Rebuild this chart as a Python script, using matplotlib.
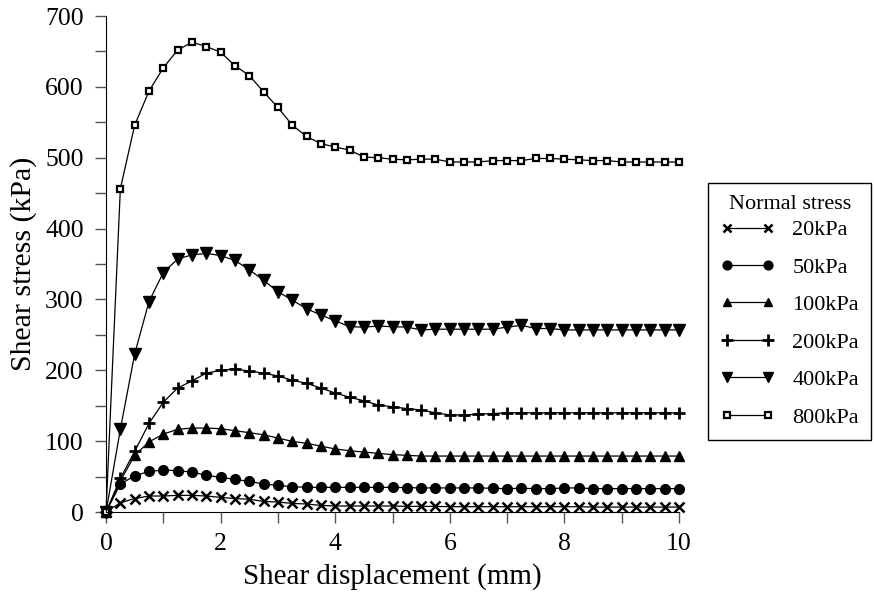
import numpy as np
import matplotlib.pyplot as plt
from matplotlib.ticker import MultipleLocator

plt.rcParams['font.family'] = ['Liberation Serif', 'DejaVu Serif']

# shear displacement (mm), 0.25 mm steps
disp = np.arange(0, 10.01, 0.25)

# shear stress (kPa)
s20 = [0, 13, 19, 22.6, 22.6, 23.5, 23.5, 22.6, 20.7, 19, 18, 15, 14, 12.2, 11.3, 9.4,
       8.5, 8.5, 8.5, 8.5, 8.5, 8, 8, 8, 7.5, 7.5, 7.5, 7.5, 7.5, 7.5, 7.5, 7.5, 7.5,
       7.5, 7, 7, 7, 7, 7, 7, 7]
s50 = [0, 39.5, 51, 57.4, 59.3, 58.3, 56.4, 51.8, 49, 46, 43.3, 39.5, 37.6, 35.8, 34.8,
       34.8, 34.8, 34.8, 34.8, 34.8, 34.8, 34.5, 34, 34, 34, 34, 34, 33.5, 33, 33.5, 33,
       33, 34, 34, 33, 33, 33, 33, 33, 33, 33]
s100 = [0, 44, 80, 99, 110, 116.7, 118.5, 118.5, 117.6, 114.8, 112, 109, 104.4, 99.7,
        97, 93, 89, 86.5, 84.7, 82.8, 81, 80, 79, 79, 79, 79, 79, 79, 79, 79, 79, 79, 79,
        79, 79, 79, 79, 79, 79, 79, 79]
s200 = [0, 47.5, 85.6, 125, 155, 175, 185, 196, 200, 202, 199, 196, 192, 186, 181.6,
        175, 168, 162, 157, 151, 148.6, 146, 144, 140, 137, 137, 138, 139, 140, 140, 140,
        140, 140, 140, 140, 140, 140, 140, 140, 140, 140]
s400 = [0, 116.7, 223, 297, 338, 357, 363, 365, 362, 355, 342, 327, 311, 299, 287, 278,
        270, 261.5, 261, 262.5, 261.5, 261, 257, 258, 258, 258, 258, 258, 261, 263.5, 259,
        259, 257, 257, 257, 257, 257, 257, 257, 257, 257]
s800 = [0, 456, 546, 594, 627, 652, 663, 657, 649, 630, 616, 593, 571, 546, 530, 520,
        515, 511, 501, 500, 498, 497, 498, 498, 494, 494, 494, 496, 496, 496, 499, 499,
        498, 497, 496, 496, 494, 494, 494, 494, 494]

labels = ['20kPa', '50kPa', '100kPa', '200kPa', '400kPa', '800kPa']

fig = plt.figure(figsize=(8.74, 5.94), dpi=100)
ax = fig.add_axes([0.1213, 0.138, 0.6556, 0.835])

kw = dict(color='black', lw=0.9, clip_on=False)
ax.plot(disp, s20, marker='x', ms=6.5, mew=1.8, label=labels[0], **kw)
ax.plot(disp, s50, marker='o', ms=7, label=labels[1], **kw)
ax.plot(disp, s100, marker='^', ms=7, label=labels[2], **kw)
ax.plot(disp, s200, marker='+', ms=9, mew=2, label=labels[3], **kw)
ax.plot(disp, s400, marker='v', ms=8, label=labels[4], **kw)
ax.plot(disp, s800, marker='s', ms=5, mew=1.6, mfc='white', label=labels[5], **kw)

ax.set_xlim(0, 10)
ax.set_ylim(0, 700)
ax.xaxis.set_major_locator(MultipleLocator(2))
ax.xaxis.set_minor_locator(MultipleLocator(1))
ax.yaxis.set_major_locator(MultipleLocator(100))
ax.yaxis.set_minor_locator(MultipleLocator(50))
ax.tick_params(which='both', direction='out', length=8, width=1, color='#555555',
               labelsize=18.5)
ax.tick_params(axis='y', pad=8)
ax.tick_params(axis='x', pad=7)
ax.spines['top'].set_visible(False)
ax.spines['right'].set_visible(False)

ax.set_xlabel('Shear displacement (mm)', fontsize=21, labelpad=6)
ax.set_ylabel('Shear stress (kPa)', fontsize=21.5, labelpad=6)

leg = ax.legend(title='Normal stress', loc='upper left',
                bbox_to_anchor=(708 / 874, 1 - 183 / 594), bbox_transform=fig.transFigure,
                fontsize=16, title_fontsize=16, numpoints=2, handlelength=2.45,
                handletextpad=0.8, borderaxespad=0, fancybox=False, edgecolor='black',
                framealpha=1, borderpad=0.55, labelspacing=0.76, markerscale=0.9)
leg.get_frame().set_linewidth(1)
# pull the title closer to the first entry
leg._legend_box.sep = 4

fig.savefig('out.png', dpi=100)
